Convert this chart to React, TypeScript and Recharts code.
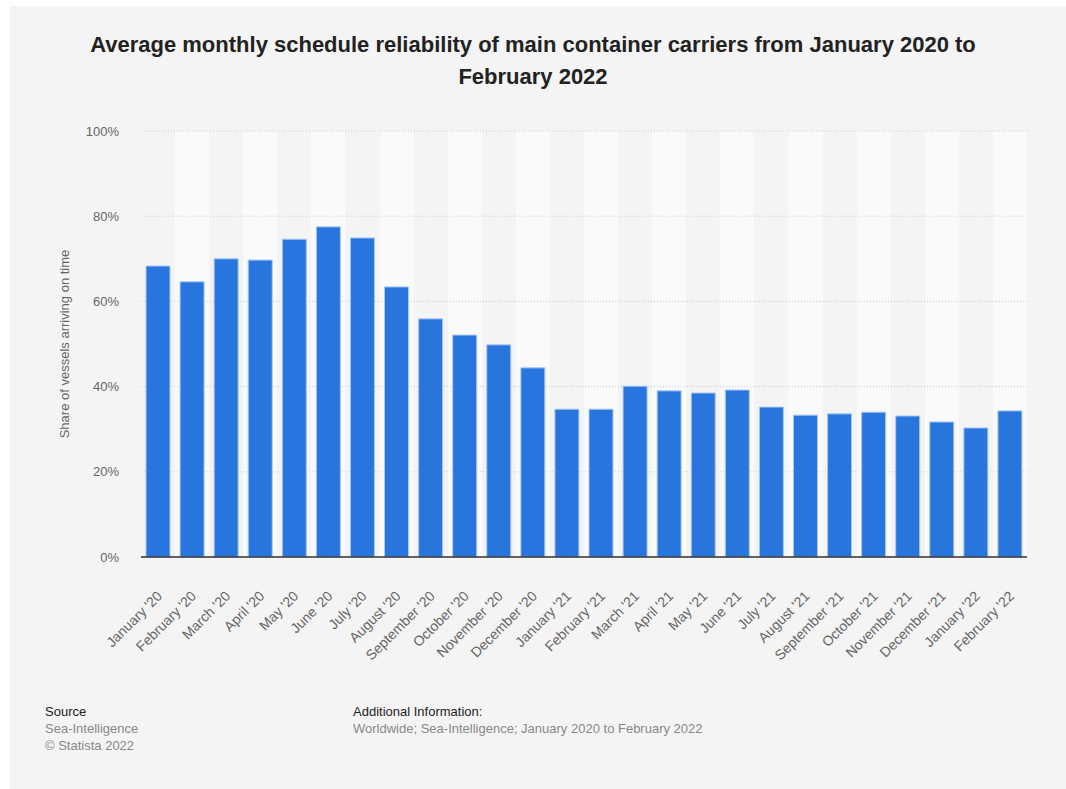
import React from "react";
import {
  BarChart,
  Bar,
  XAxis,
  YAxis,
  CartesianGrid,
  Label,
} from "recharts";

const months = [
  "January '20", "February '20", "March '20", "April '20", "May '20", "June '20",
  "July '20", "August '20", "September '20", "October '20", "November '20", "December '20",
  "January '21", "February '21", "March '21", "April '21", "May '21", "June '21",
  "July '21", "August '21", "September '21", "October '21", "November '21", "December '21",
  "January '22", "February '22",
];

const reliability = [
  68.3, 64.6, 70.0, 69.7, 74.6, 77.5, 74.9, 63.4, 55.9, 52.1, 49.8, 44.4,
  34.7, 34.7, 40.1, 39.0, 38.5, 39.2, 35.2, 33.3, 33.6, 34.0, 33.1, 31.7,
  30.3, 34.3,
];

const yTicks = [0, 20, 40, 60, 80, 100];

const data = months.map((m, i) => ({ month: m, value: reliability[i] }));

const FONT = '"Liberation Sans", Arial, Helvetica, sans-serif';

function MonthTick(props: any) {
  const { x, y, payload } = props;
  return (
    <g transform={`translate(${x + 5},${y + 32})`}>
      <text
        textAnchor="end"
        transform="rotate(-45)"
        fontSize={14}
        fill="#666"
        fontFamily={FONT}
      >
        {payload.value}
      </text>
    </g>
  );
}

export default function App() {
  return (
    <div
      style={{
        position: "absolute",
        left: 10,
        top: 6,
        width: 1056,
        height: 783,
        background: "#f4f4f4",
        fontFamily: FONT,
      }}
    >
      <div
        style={{
          position: "absolute",
          top: 23,
          left: 0,
          width: 1046,
          textAlign: "center",
          fontWeight: "bold",
          fontSize: 22,
          lineHeight: "32px",
          color: "#222",
        }}
      >
        Average monthly schedule reliability of main container carriers from January 2020 to
        <br />
        February 2022
      </div>

      <div style={{ position: "absolute", left: 0, top: 0 }}>
        <BarChart
          width={1056}
          height={783}
          data={data}
          margin={{ top: 125, right: 39, left: 0, bottom: 132 }}
        >
          <CartesianGrid
            horizontal={false}
            stroke="none"
            verticalFill={["#f4f4f4", "#fafafa"]}
            verticalCoordinatesGenerator={({ offset }: any) =>
              months.map((_, i) => offset.left + (i * offset.width) / months.length)
            }
          />
          <CartesianGrid
            vertical={false}
            stroke="#c8c8c8"
            strokeDasharray="1 2"
          />
          <XAxis
            dataKey="month"
            interval={0}
            height={100}
            tickLine={false}
            axisLine={{ stroke: "#333", strokeWidth: 1.5 }}
            tick={<MonthTick />}
          />
          <YAxis
            width={131}
            domain={[0, 100]}
            ticks={yTicks}
            tickFormatter={(v: number) => `${v}%`}
            tickLine={false}
            axisLine={false}
            tickSize={0}
            tickMargin={22}
            tick={{ fontSize: 13, fill: "#666", fontFamily: FONT }}
          >
            <Label
              value="Share of vessels arriving on time"
              angle={-90}
              position="insideLeft"
              offset={54}
              style={{ fontSize: 13, fill: "#666", fontFamily: FONT, textAnchor: "middle" }}
            />
          </YAxis>
          <Bar
            dataKey="value"
            fill="#2876dd"
            stroke="#a8c8f2"
            strokeWidth={1}
            barSize={24}
            isAnimationActive={false}
          />
        </BarChart>
      </div>

      <div style={{ position: "absolute", left: 35, top: 697, fontSize: 13, lineHeight: "17px" }}>
        <div style={{ color: "#222" }}>Source</div>
        <div style={{ color: "#888" }}>Sea-Intelligence</div>
        <div style={{ color: "#888" }}>© Statista 2022</div>
      </div>
      <div style={{ position: "absolute", left: 343, top: 697, fontSize: 13, lineHeight: "17px" }}>
        <div style={{ color: "#222" }}>Additional Information:</div>
        <div style={{ color: "#888" }}>Worldwide; Sea-Intelligence; January 2020 to February 2022</div>
      </div>
    </div>
  );
}
